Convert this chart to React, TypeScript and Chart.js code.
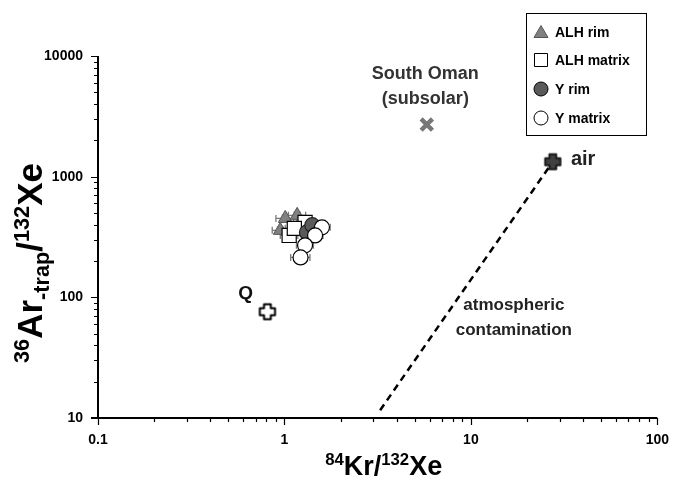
import React, { useEffect, useRef } from 'react';
import { Chart, registerables } from 'chart.js';

Chart.register(...registerables);

// ---- data ----
const xTickValues = [0.1, 1, 10, 100];
const yTickValues = [10, 100, 1000, 10000];

const alhRimX = [1.01, 1.17, 0.95];
const alhRimY = [451, 478, 359];
const alhRimXLo = [0.9, 1.05, 0.86];
const alhRimXHi = [1.12, 1.3, 1.05];
const alhRimYLo = [425, 450, 338];
const alhRimYHi = [480, 508, 382];

const alhMatrixX = [1.06, 1.29, 1.13];
const alhMatrixY = [326, 418, 373];
const alhMatrixXLo = [0.95, 1.16, 1.01];
const alhMatrixXHi = [1.18, 1.43, 1.26];

const yRimX = [1.32, 1.41];
const yRimY = [345, 396];
const yRimXLo = [1.19, 1.27];
const yRimXHi = [1.46, 1.56];

const yMatrixX = [1.59, 1.46, 1.29, 1.22];
const yMatrixY = [380, 326, 270, 214];
const yMatrixXLo = [1.44, 1.32, 1.16, 1.08];
const yMatrixXHi = [1.76, 1.61, 1.43, 1.37];

const qX = [0.81];
const qY = [76];
const airX = [27.5];
const airY = [1330];
const omanX = [5.8];
const omanY = [2700];
const mixX = [3.26, 27.5];
const mixY = [11.6, 1330];

const legendLabels = ['ALH rim', 'ALH matrix', 'Y rim', 'Y matrix'];

const TICK_FONT = "'Liberation Sans', Arial, sans-serif";
const TITLE_FONT = "'Liberation Sans', Arial, sans-serif";

function pts(xs: number[], ys: number[]) {
  return xs.map((x, i) => ({ x, y: ys[i] }));
}

function makePlus(fill: string, stroke: string) {
  const c = document.createElement('canvas');
  const S = 20;
  c.width = S;
  c.height = S;
  const ctx = c.getContext('2d')!;
  const a = 3.4;
  const L = 7.6;
  ctx.translate(S / 2, S / 2);
  ctx.beginPath();
  const p = [
    [-a, -L], [a, -L], [a, -a], [L, -a], [L, a], [a, a],
    [a, L], [-a, L], [-a, a], [-L, a], [-L, -a], [-a, -a],
  ];
  p.forEach(([x, y], i) => (i ? ctx.lineTo(x, y) : ctx.moveTo(x, y)));
  ctx.closePath();
  ctx.fillStyle = fill;
  ctx.fill();
  ctx.lineJoin = 'round';
  ctx.lineWidth = 2;
  ctx.strokeStyle = stroke;
  ctx.stroke();
  return c;
}

function decadeTicks(min: number, max: number) {
  const out: number[] = [];
  for (let e = Math.round(Math.log10(min)); e < Math.round(Math.log10(max)); e++) {
    for (let k = 1; k <= 9; k++) out.push(k * Math.pow(10, e));
  }
  out.push(max);
  return out;
}

function isMajor(v: number) {
  const l = Math.log10(v);
  return Math.abs(l - Math.round(l)) < 1e-9;
}

function labelFor(v: number, list: number[]) {
  const m = list.find((t) => Math.abs(t - v) / t < 1e-9);
  return m === undefined ? '' : String(m);
}

type Part = { t: string; sup?: boolean; sub?: boolean };

function drawRich(ctx: CanvasRenderingContext2D, parts: Part[], cx: number, baseY: number, size: number) {
  const small = size * 0.62;
  const fontOf = (p: Part) => `bold ${p.sup || p.sub ? small : size}px ${TITLE_FONT}`;
  let total = 0;
  parts.forEach((p) => {
    ctx.font = fontOf(p);
    total += ctx.measureText(p.t).width;
  });
  let x = cx - total / 2;
  ctx.textAlign = 'left';
  ctx.textBaseline = 'alphabetic';
  parts.forEach((p) => {
    ctx.font = fontOf(p);
    const dy = p.sup ? -size * 0.36 : p.sub ? size * 0.2 : 0;
    ctx.fillText(p.t, x, baseY + dy);
    x += ctx.measureText(p.t).width;
  });
}

const errorBars = {
  id: 'errorBars',
  beforeDatasetsDraw(chart: any) {
    const { ctx, scales } = chart;
    const xs = scales.x;
    const ys = scales.y;
    ctx.save();
    ctx.strokeStyle = '#7a7a7a';
    ctx.lineWidth = 1.3;
    chart.data.datasets.forEach((ds: any) => {
      if (!ds.xLo) return;
      ds.data.forEach((d: any, i: number) => {
        const px = xs.getPixelForValue(d.x);
        const py = ys.getPixelForValue(d.y);
        const x1 = xs.getPixelForValue(ds.xLo[i]);
        const x2 = xs.getPixelForValue(ds.xHi[i]);
        ctx.beginPath();
        ctx.moveTo(x1, py);
        ctx.lineTo(x2, py);
        ctx.moveTo(x1, py - 3.5);
        ctx.lineTo(x1, py + 3.5);
        ctx.moveTo(x2, py - 3.5);
        ctx.lineTo(x2, py + 3.5);
        if (ds.yLo) {
          const y1 = ys.getPixelForValue(ds.yLo[i]);
          const y2 = ys.getPixelForValue(ds.yHi[i]);
          ctx.moveTo(px, y1);
          ctx.lineTo(px, y2);
          ctx.moveTo(px - 3.5, y1);
          ctx.lineTo(px + 3.5, y1);
          ctx.moveTo(px - 3.5, y2);
          ctx.lineTo(px + 3.5, y2);
        }
        ctx.stroke();
      });
    });
    ctx.restore();
  },
};

const axesDraw = {
  id: 'axesDraw',
  beforeDatasetsDraw(chart: any) {
    const { ctx, chartArea, scales } = chart;
    const { left, right, top, bottom } = chartArea;
    ctx.save();
    ctx.strokeStyle = '#000';
    ctx.lineWidth = 2;
    ctx.beginPath();
    ctx.moveTo(left, top);
    ctx.lineTo(left, bottom);
    ctx.moveTo(left - 7, bottom);
    ctx.lineTo(right, bottom);
    ctx.stroke();
    ctx.lineWidth = 1.2;
    ctx.beginPath();
    scales.y.ticks.forEach((t: any) => {
      const y = Math.round(scales.y.getPixelForValue(t.value)) + 0.5;
      const len = isMajor(t.value) ? 7 : 4;
      ctx.moveTo(left - len, y);
      ctx.lineTo(left, y);
    });
    scales.x.ticks.forEach((t: any) => {
      const x = Math.round(scales.x.getPixelForValue(t.value)) + 0.5;
      const len = isMajor(t.value) ? 7 : 4;
      ctx.moveTo(x, bottom);
      ctx.lineTo(x, bottom + len);
    });
    ctx.stroke();
    ctx.restore();
  },
  afterDraw(chart: any) {
    const { ctx, chartArea, scales } = chart;
    const xs = scales.x;
    const ys = scales.y;
    ctx.save();
    ctx.fillStyle = '#000';
    // axis titles
    drawRich(
      ctx,
      [{ t: '84', sup: true }, { t: 'Kr/' }, { t: '132', sup: true }, { t: 'Xe' }],
      (chartArea.left + chartArea.right) / 2 + 6,
      475,
      27
    );
    ctx.save();
    ctx.translate(42, 263);
    ctx.rotate(-Math.PI / 2);
    drawRich(
      ctx,
      [{ t: '36', sup: true }, { t: 'Ar' }, { t: '-trap', sub: true }, { t: '/' }, { t: '132', sup: true }, { t: 'Xe' }],
      0,
      0,
      35
    );
    ctx.restore();

    // annotations
    ctx.textAlign = 'center';
    ctx.textBaseline = 'middle';
    ctx.fillStyle = '#111';
    ctx.font = `bold 19px ${TICK_FONT}`;
    ctx.fillText('Q', xs.getPixelForValue(0.62), ys.getPixelForValue(108));
    ctx.fillStyle = '#222';
    ctx.font = `bold 20px ${TICK_FONT}`;
    ctx.fillText('air', xs.getPixelForValue(40), ys.getPixelForValue(1390));
    ctx.fillStyle = '#333';
    ctx.font = `bold 18px ${TICK_FONT}`;
    ctx.fillText('South Oman', xs.getPixelForValue(5.7), ys.getPixelForValue(7150));
    ctx.fillText('(subsolar)', xs.getPixelForValue(5.7), ys.getPixelForValue(4440));
    ctx.fillStyle = '#222';
    ctx.font = `bold 17px ${TICK_FONT}`;
    ctx.fillText('atmospheric', xs.getPixelForValue(17), ys.getPixelForValue(86));
    ctx.fillText('contamination', xs.getPixelForValue(17), ys.getPixelForValue(53));

    // legend box
    const bx = 526, by = 13, bw = 120, bh = 122;
    ctx.fillStyle = '#fff';
    ctx.fillRect(bx, by, bw, bh);
    ctx.strokeStyle = '#000';
    ctx.lineWidth = 1;
    ctx.strokeRect(bx + 0.5, by + 0.5, bw, bh);
    const rowY = [32, 60, 89, 118];
    const mx = 541;
    ctx.font = `bold 14px ${TICK_FONT}`;
    ctx.textAlign = 'left';
    ctx.textBaseline = 'middle';
    legendLabels.forEach((lab, i) => {
      const y = rowY[i];
      ctx.lineWidth = 1;
      ctx.beginPath();
      if (i === 0) {
        ctx.moveTo(mx, y - 6.5);
        ctx.lineTo(mx + 7, y + 5.5);
        ctx.lineTo(mx - 7, y + 5.5);
        ctx.closePath();
        ctx.fillStyle = '#808080';
        ctx.fill();
        ctx.strokeStyle = '#555';
        ctx.stroke();
      } else if (i === 1) {
        ctx.rect(mx - 6.5, y - 6.5, 13, 13);
        ctx.fillStyle = '#fff';
        ctx.fill();
        ctx.strokeStyle = '#000';
        ctx.stroke();
      } else {
        ctx.arc(mx, y, 7, 0, Math.PI * 2);
        ctx.fillStyle = i === 2 ? '#5a5a5a' : '#fff';
        ctx.fill();
        ctx.strokeStyle = '#000';
        ctx.stroke();
      }
      ctx.fillStyle = '#000';
      ctx.fillText(lab, 555, y + 1);
    });
    ctx.restore();
  },
};

export default function App() {
  const ref = useRef<HTMLCanvasElement>(null);
  useEffect(() => {
    const qPlus = makePlus('#ffffff', '#000000');
    const airPlus = makePlus('#404040', '#1a1a1a');
    const tickFont = { family: TICK_FONT, size: 14, weight: 'bold' as const };
    const chart = new Chart(ref.current!, {
      type: 'scatter',
      data: {
        datasets: [
          {
            label: 'mixing',
            data: pts(mixX, mixY),
            showLine: true,
            borderColor: '#000',
            borderWidth: 2.5,
            borderDash: [7, 5],
            pointRadius: 0,
            order: 10,
          } as any,
          {
            label: 'ALH rim',
            data: pts(alhRimX, alhRimY),
            pointStyle: 'triangle',
            pointRadius: 8,
            backgroundColor: '#808080',
            borderColor: '#555',
            borderWidth: 1,
            xLo: alhRimXLo,
            xHi: alhRimXHi,
            yLo: alhRimYLo,
            yHi: alhRimYHi,
            order: 5,
          } as any,
          {
            label: 'ALH matrix',
            data: pts(alhMatrixX, alhMatrixY),
            pointStyle: 'rect',
            pointRadius: 10,
            backgroundColor: '#fff',
            borderColor: '#000',
            borderWidth: 1.2,
            xLo: alhMatrixXLo,
            xHi: alhMatrixXHi,
            order: 4,
          } as any,
          {
            label: 'Y rim',
            data: pts(yRimX, yRimY),
            pointStyle: 'circle',
            pointRadius: 7.5,
            backgroundColor: '#5a5a5a',
            borderColor: '#222',
            borderWidth: 1.2,
            xLo: yRimXLo,
            xHi: yRimXHi,
            order: 3,
          } as any,
          {
            label: 'Y matrix',
            data: pts(yMatrixX, yMatrixY),
            pointStyle: 'circle',
            pointRadius: 7.5,
            backgroundColor: '#fff',
            borderColor: '#000',
            borderWidth: 1.2,
            xLo: yMatrixXLo,
            xHi: yMatrixXHi,
            order: 2,
          } as any,
          {
            label: 'Q',
            data: pts(qX, qY),
            pointStyle: qPlus,
            order: 1,
          } as any,
          {
            label: 'air',
            data: pts(airX, airY),
            pointStyle: airPlus,
            order: 1,
          } as any,
          {
            label: 'South Oman',
            data: pts(omanX, omanY),
            pointStyle: 'crossRot',
            pointRadius: 8,
            borderColor: '#777',
            borderWidth: 4.5,
            order: 1,
          } as any,
        ],
      },
      options: {
        responsive: false,
        animation: false,
        events: [],
        layout: { padding: { top: 56, right: 18, left: 0, bottom: 0 } },
        plugins: { legend: { display: false }, tooltip: { enabled: false } },
        scales: {
          x: {
            type: 'logarithmic',
            position: 'bottom',
            min: 0.1,
            max: 100,
            afterBuildTicks: (s: any) => {
              s.ticks = decadeTicks(0.1, 100).map((v) => ({ value: v, major: isMajor(v) }));
            },
            afterFit: (s: any) => {
              s.height = 62;
            },
            grid: { display: false, drawTicks: false },
            border: { display: false },
            ticks: {
              autoSkip: false,
              maxRotation: 0,
              minRotation: 0,
              padding: 14,
              color: '#000',
              font: tickFont,
              callback: (v: any) => labelFor(Number(v), xTickValues),
            },
          },
          y: {
            type: 'logarithmic',
            position: 'left',
            min: 10,
            max: 10000,
            afterBuildTicks: (s: any) => {
              s.ticks = decadeTicks(10, 10000).map((v) => ({ value: v, major: isMajor(v) }));
            },
            afterFit: (s: any) => {
              s.width = 98;
            },
            grid: { display: false, drawTicks: false },
            border: { display: false },
            ticks: {
              autoSkip: false,
              padding: 15,
              color: '#000',
              font: tickFont,
              callback: (v: any) => labelFor(Number(v), yTickValues),
            },
          },
        },
      },
      plugins: [errorBars, axesDraw],
    } as any);
    return () => chart.destroy();
  }, []);
  return (
    <div style={{ position: 'fixed', left: 0, top: 0, width: 683, height: 480, background: '#fff' }}>
      <canvas ref={ref} width={683} height={480} style={{ width: 683, height: 480, display: 'block' }} />
    </div>
  );
}
